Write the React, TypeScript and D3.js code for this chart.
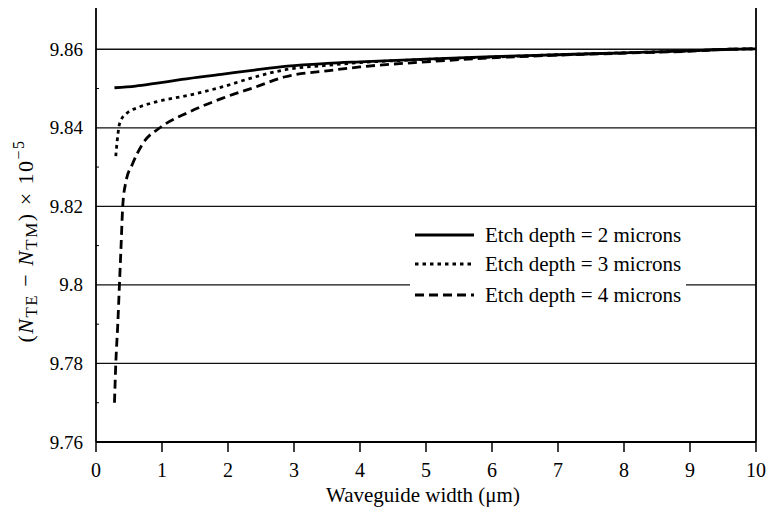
import React from "react";
import * as d3 from "d3";

const xTicks = [0, 1, 2, 3, 4, 5, 6, 7, 8, 9, 10];
const yTicks = [9.76, 9.78, 9.8, 9.82, 9.84, 9.86];
const yTickLabels = ["9.76", "9.78", "9.8", "9.82", "9.84", "9.86"];
const yMinorTicks = [9.77, 9.79, 9.81, 9.83, 9.85];

const legendLabels = [
  "Etch depth = 2 microns",
  "Etch depth = 3 microns",
  "Etch depth = 4 microns",
];

const etch2X = [0.28, 0.6, 0.9, 1.3, 1.9, 2.4, 2.9, 3.5, 4, 5, 6, 7, 8, 9, 9.6, 10];
const etch2Y = [9.8502, 9.8506, 9.8513, 9.8523, 9.8536, 9.8547, 9.8557, 9.8564, 9.8568, 9.8575, 9.8581, 9.8586, 9.8591, 9.8596, 9.86, 9.8601];

const etch3X = [0.3, 0.32, 0.35, 0.38, 0.46, 0.66, 0.91, 1.41, 1.91, 2.42, 2.87, 3.5, 4, 5, 6, 7, 8, 9, 9.6, 10];
const etch3Y = [9.8328, 9.8365, 9.8405, 9.842, 9.8436, 9.8453, 9.8466, 9.8483, 9.8504, 9.853, 9.8548, 9.8559, 9.8566, 9.8574, 9.858, 9.8586, 9.8591, 9.8596, 9.86, 9.8601];

const etch4X = [0.28, 0.3, 0.33, 0.355, 0.38, 0.405, 0.45, 0.556, 0.71, 0.985, 1.41, 1.91, 2.42, 2.87, 3.5, 4, 5, 6, 7, 8, 9, 9.6, 10];
const etch4Y = [9.77, 9.78, 9.79, 9.8, 9.81, 9.82, 9.826, 9.8309, 9.836, 9.8402, 9.844, 9.8475, 9.8504, 9.853, 9.8545, 9.8555, 9.8568, 9.8578, 9.8585, 9.859, 9.8595, 9.86, 9.8601];

const series = [
  { xs: etch2X, ys: etch2Y, dash: "none" },
  { xs: etch3X, ys: etch3Y, dash: "3.5 4" },
  { xs: etch4X, ys: etch4Y, dash: "9 5" },
];

const W = 769;
const H = 513;
const left = 96;
const right = 756;
const top = 8;
const bottom = 442;

export default function App() {
  const x = d3.scaleLinear().domain([0, 10]).range([left, right]);
  const y = d3.scaleLinear().domain([9.76, 9.8705]).range([bottom, top]);
  const line = d3
    .line<[number, number]>()
    .x((d) => x(d[0]))
    .y((d) => y(d[1]))
    .curve(d3.curveMonotoneX);

  const font = "'Liberation Serif', 'Times New Roman', serif";
  const lx1 = 415;
  const lx2 = 474;
  const legendRows = [235, 264, 295];

  return (
    <svg
      width={W}
      height={H}
      style={{ position: "absolute", left: 0, top: 0, background: "#fff" }}
      fontFamily={font}
    >
      <rect x={0} y={0} width={W} height={H} fill="#fff" />
      {yTicks.slice(1).map((t) => (
        <line key={t} x1={left} x2={right} y1={y(t)} y2={y(t)} stroke="#111" strokeWidth={1.3} />
      ))}
      {series.map((s, i) => (
        <path
          key={i}
          d={line(s.xs.map((v, j) => [v, s.ys[j]] as [number, number])) || ""}
          fill="none"
          stroke="#000"
          strokeWidth={2.8}
          strokeDasharray={s.dash}
        />
      ))}
      <rect x={410} y={220} width={276} height={88} fill="#fff" />
      {legendLabels.map((lab, i) => (
        <g key={lab}>
          <line
            x1={lx1}
            x2={lx2}
            y1={legendRows[i]}
            y2={legendRows[i]}
            stroke="#000"
            strokeWidth={2.8}
            strokeDasharray={series[i].dash}
          />
          <text x={485} y={legendRows[i] + 7} fontSize={21} fill="#000">
            {lab}
          </text>
        </g>
      ))}
      <line x1={left} x2={left} y1={top} y2={bottom} stroke="#000" strokeWidth={1.8} />
      <line x1={right} x2={right} y1={top} y2={bottom} stroke="#000" strokeWidth={1.8} />
      <line x1={left} x2={right} y1={bottom} y2={bottom} stroke="#000" strokeWidth={1.8} />
      {xTicks.map((t) => (
        <g key={t}>
          <line x1={x(t)} x2={x(t)} y1={bottom} y2={bottom + 10} stroke="#000" strokeWidth={1.5} />
          <text x={x(t)} y={477} textAnchor="middle" fontSize={20} fill="#000">
            {t}
          </text>
        </g>
      ))}
      {yMinorTicks.map((t) => (
        <line key={t} x1={left} x2={left + 3} y1={y(t)} y2={y(t)} stroke="#000" strokeWidth={1} />
      ))}
      {yTicks.map((t, i) => (
        <text key={t} x={83} y={y(t) + 6.5} textAnchor="end" fontSize={19} fill="#000">
          {yTickLabels[i]}
        </text>
      ))}
      <text x={423} y={502} textAnchor="middle" fontSize={21} fill="#000">
        Waveguide width (μm)
      </text>
      <text
        transform={`translate(33, 241) rotate(-90)`}
        textAnchor="middle"
        fontSize={22}
        letterSpacing={1.5}
        fill="#000"
      >
        (<tspan fontStyle="italic">N</tspan>
        <tspan fontSize={17} dy={4}>TE</tspan>
        <tspan dy={-4}>{"  −  "}</tspan>
        <tspan fontStyle="italic">N</tspan>
        <tspan fontSize={17} dy={4}>TM</tspan>
        <tspan dy={-4}>{")  ×  10"}</tspan>
        <tspan fontSize={16} dy={-9}>−5</tspan>
      </text>
    </svg>
  );
}
